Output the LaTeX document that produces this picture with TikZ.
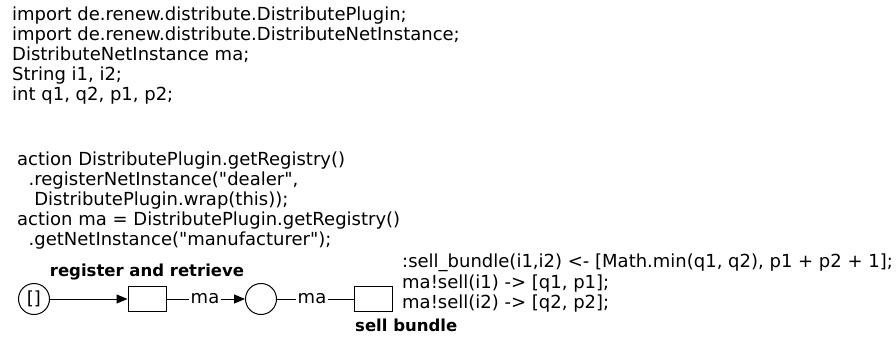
\documentclass[tikz,border=0pt]{standalone}
\usepackage{fontspec}
\setmainfont{DejaVu Sans}[Ligatures=TeXOff]
\usetikzlibrary{arrows.meta}
\tikzset{
  codefont/.style={font=\fontsize{18}{20}\selectfont},
  codeline/.style={codefont, inner sep=0pt, anchor=base west},
  place/.style={draw, circle, minimum size=31pt, inner sep=0pt, line width=1pt, codefont},
  transition/.style={draw, rectangle, minimum width=38pt, minimum height=25pt, inner sep=0pt, line width=1pt},
  tlabel/.style={inner sep=0pt, anchor=base, font=\fontsize{16.5}{18}\selectfont\bfseries},
  arclabel/.style={inner sep=1.5pt, codefont},
  arc/.style={line width=1pt},
  tip/.style={-{Triangle[length=11pt,width=9pt]}}
}
\begin{document}
\begin{tikzpicture}[x=1pt,y=-1pt]
\useasboundingbox (0,0) rectangle (896,338);

% declaration block
\node[codeline] (d1) at (12,20) {import de.renew.distribute.DistributePlugin;};
\node[codeline] (d2) at (12,40) {import de.renew.distribute.DistributeNetInstance;};
\node[codeline] (d3) at (12,60) {DistributeNetInstance ma;};
\node[codeline] (d4) at (12,80) {String i1, i2;};
\node[codeline] (d5) at (12,100) {int q1, q2, p1, p2;};

% inscription of the first transition
\node[codeline] (a1) at (17,165) {action DistributePlugin.getRegistry()};
\node[codeline] (a2) at (17,185) {\ \ .registerNetInstance("dealer",};
\node[codeline] (a3) at (17,205) {\ \ \ DistributePlugin.wrap(this));};
\node[codeline] (a4) at (17,225) {action ma = DistributePlugin.getRegistry()};
\node[codeline] (a5) at (17,245) {\ \ .getNetInstance("manufacturer");};

% net
\node[place] (p0) at (34,299) {[]};
\node[transition] (t1) at (147,299) {};
\node[place] (p1) at (261,299) {};
\node[transition] (t2) at (373,299) {};

\node[tlabel] (n1) at (147,276) {register and retrieve};
\node[tlabel, anchor=base west] (n2) at (355,331) {sell bundle};

\node[arclabel] (m1) at (205,299) {ma};
\node[arclabel] (m2) at (312,299) {ma};

\draw[arc, tip] (p0) -- (t1);
\draw[arc] (t1) -- (m1);
\draw[arc, tip] (m1) -- (p1);
\draw[arc] (p1) -- (m2);
\draw[arc] (m2) -- (t2);

% inscription of the second transition
\node[codeline] (s1) at (402,267) {:sell\_bundle(i1,i2) <- [Math.min(q1, q2), p1 + p2 + 1];};
\node[codeline] (s2) at (402,288) {ma!sell(i1) -> [q1, p1];};
\node[codeline] (s3) at (402,308) {ma!sell(i2) -> [q2, p2];};
\end{tikzpicture}
\end{document}
